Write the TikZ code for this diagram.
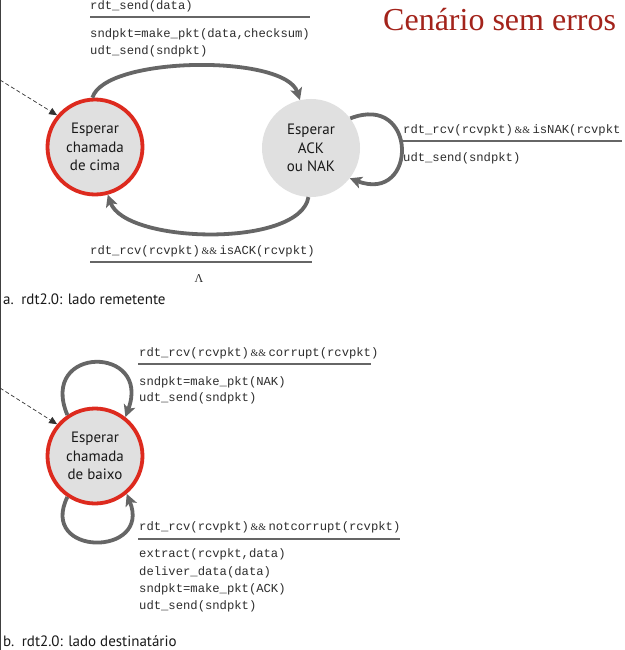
\documentclass[tikz,border=0pt]{standalone}
\usepackage{fontspec}
\setmainfont{PT Sans}
\newfontfamily\monof{Liberation Mono}
\newfontfamily\titlef{Liberation Serif}
\usetikzlibrary{arrows.meta}
\definecolor{redring}{HTML}{DD2A1E}
\definecolor{stfill}{HTML}{E0E0E0}
\definecolor{arrgray}{HTML}{666666}
\definecolor{codegray}{HTML}{2E2E2E}
\definecolor{titlered}{HTML}{A3231B}
\newcommand{\myamps}{\hspace{1.5pt}{\titlef\fontsize{10}{12}\selectfont\&\&}\hspace{2.5pt}}
\tikzset{
  stateA/.style={circle, minimum size=95pt, inner sep=0pt, fill=stfill, draw=redring, line width=3.8pt, align=center, font=\fontsize{15}{18.5}\selectfont, text=black!90},
  stateB/.style={circle, minimum size=98pt, inner sep=0pt, fill=stfill, align=center, font=\fontsize{15}{18.5}\selectfont, text=black!90},
  trans/.style={draw=arrgray, line width=3.8pt, -{Stealth[length=12pt,width=12pt,inset=3pt]}},
  initarr/.style={draw=black!80, line width=0.7pt, dash pattern=on 4pt off 2.5pt, -{Triangle[length=8pt,width=7pt]}},
  code/.style={anchor=base west, inner sep=0pt, text=codegray, font=\monof\fontsize{12.2}{14}\selectfont},
  rulel/.style={draw=black!60, line width=1.4pt},
  caption/.style={anchor=base west, inner sep=0pt, text=black!90, font=\fontsize{15}{18}\selectfont},
}
\begin{document}
\begin{tikzpicture}[x=1pt,y=-1pt]
\useasboundingbox (0,0) rectangle (624,650);
\fill[white] (0,0) rectangle (624,650);
\draw[black!75, line width=1pt] (0.5,0) -- (0.5,650);

% title
\node[anchor=base west, inner sep=0pt, text=titlered, font=\titlef\fontsize{32}{36}\selectfont] (title) at (383,31) {Cenário sem erros};

% ---------- a. sender ----------
\node[stateA] (c1) at (95,147) {Esperar\\chamada\\de cima};
\node[stateB] (c2) at (311,148) {Esperar\\ACK\\ou NAK};

\coordinate (d1) at (0,80);
\draw[initarr] (d1) -- (c1.140);

\draw[trans] (c1.93) .. controls (105,56) and (285,54) .. (c2.103);
\draw[trans] (c2.-93) .. controls (300,248) and (125,244) .. (c1.-75);
\draw[trans] (c2.37) .. controls (418,92) and (418,204) .. (c2.-38);

\node[code] (ta1) at (90,10) {rdt\_send(data)};
\coordinate (ra1a) at (90,17); \coordinate (ra1b) at (310,17);
\draw[rulel] (ra1a) -- (ra1b);
\node[code] (ta2) at (90,38) {sndpkt=make\_pkt(data,checksum)};
\node[code] (ta3) at (90,55) {udt\_send(sndpkt)};

\node[code] (tn1) at (403,134) {rdt\_rcv(rcvpkt)\myamps isNAK(rcvpkt};
\coordinate (rn1a) at (403,141); \coordinate (rn1b) at (622,141);
\draw[rulel] (rn1a) -- (rn1b);
\node[code] (tn2) at (403,161) {udt\_send(sndpkt)};

\node[code] (tk1) at (90,254) {rdt\_rcv(rcvpkt)\myamps isACK(rcvpkt)};
\coordinate (rk1a) at (90,262); \coordinate (rk1b) at (312,262);
\draw[rulel] (rk1a) -- (rk1b);
\node[code, anchor=base, font=\titlef\fontsize{12}{14}\selectfont] (tk2) at (199,282) {Λ};

\node[caption] (capa) at (3,304) {a.\enspace rdt2.0: lado remetente};

% ---------- b. receiver ----------
\node[stateA] (c3) at (95,456) {Esperar\\chamada\\de baixo};

\coordinate (d2) at (0,388);
\draw[initarr] (d2) -- (c3.140);

\draw[trans] (c3.124) .. controls (38,345) and (152,345) .. (c3.52);
\draw[trans] (c3.-124) .. controls (38,557) and (152,557) .. (c3.-50);

\node[code] (tc1) at (139,356) {rdt\_rcv(rcvpkt)\myamps corrupt(rcvpkt)};
\coordinate (rc1a) at (138,364); \coordinate (rc1b) at (371,364);
\draw[rulel] (rc1a) -- (rc1b);
\node[code] (tc2) at (139,385) {sndpkt=make\_pkt(NAK)};
\node[code] (tc3) at (139,401) {udt\_send(sndpkt)};

\node[code] (to1) at (139,530) {rdt\_rcv(rcvpkt)\myamps notcorrupt(rcvpkt)};
\coordinate (ro1a) at (138,539); \coordinate (ro1b) at (400,539);
\draw[rulel] (ro1a) -- (ro1b);
\node[code] (to2) at (139,557) {extract(rcvpkt,data)};
\node[code] (to3) at (139,575) {deliver\_data(data)};
\node[code] (to4) at (139,592) {sndpkt=make\_pkt(ACK)};
\node[code] (to5) at (139,609) {udt\_send(sndpkt)};

\node[caption] (capb) at (3,646) {b.\enspace rdt2.0: lado destinatário};
\end{tikzpicture}
\end{document}
